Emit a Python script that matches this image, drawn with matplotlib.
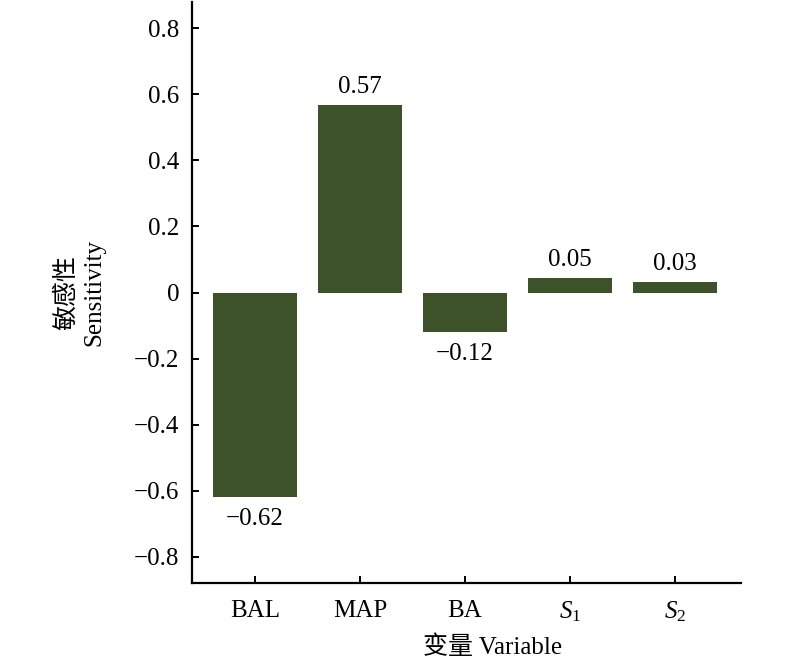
import matplotlib
matplotlib.use("Agg")
import matplotlib.pyplot as plt

categories = ["BAL", "MAP", "BA", "$S_1$", "$S_2$"]
values = [-0.62, 0.567, -0.12, 0.045, 0.032]
value_labels = ["\u22120.62", "0.57", "\u22120.12", "0.05", "0.03"]
yticks = [-0.8, -0.6, -0.4, -0.2, 0, 0.2, 0.4, 0.6, 0.8]
ytick_labels = ["\u22120.8", "\u22120.6", "\u22120.4", "\u22120.2", "0", "0.2", "0.4", "0.6", "0.8"]

plt.rcParams['font.family'] = ['Liberation Serif', 'Noto Sans CJK SC', 'DejaVu Sans']
plt.rcParams['mathtext.fontset'] = 'custom'
plt.rcParams['mathtext.rm'] = 'Liberation Serif'
plt.rcParams['mathtext.it'] = 'Liberation Serif:italic'

bar_color = '#3d5229'
fs = 18

fig = plt.figure(figsize=(8, 6.61), dpi=100)
ax = fig.add_axes([192/800, 1 - 583/661, (741-192)/800, (583-2)/661])

x = list(range(len(categories)))
bars = ax.bar(x, values, width=0.8, color=bar_color)

for b, v, lab in zip(bars, values, value_labels):
    cx = b.get_x() + b.get_width() / 2
    if v >= 0:
        ax.annotate(lab, (cx, v), xytext=(0, 5), textcoords='offset points',
                    ha='center', va='bottom', fontsize=fs)
    else:
        ax.annotate(lab, (cx, v), xytext=(0, -8), textcoords='offset points',
                    ha='center', va='top', fontsize=fs)

ax.set_xlim(-0.6, 4.63)
ax.set_ylim(-0.88, 0.88)
ax.set_xticks(x)
ax.set_xticklabels(categories, fontsize=fs)
ax.set_yticks(yticks)
ax.set_yticklabels(ytick_labels, fontsize=fs)

ax.spines['top'].set_visible(False)
ax.spines['right'].set_visible(False)
for s in ['left', 'bottom']:
    ax.spines[s].set_linewidth(1.6)

ax.tick_params(axis='both', direction='in', length=5, width=1.4)
ax.tick_params(axis='x', pad=12)
ax.tick_params(axis='y', pad=9)

fig.text(80/800, 1 - 293/661, "敏感性\nSensitivity", rotation=90, ha='center', va='center',
         fontsize=fs, linespacing=1.35)
fig.text(493/800, 1 - 647/661, "变量 Variable", ha='center', va='center', fontsize=fs)

fig.savefig("out.png", dpi=100)
